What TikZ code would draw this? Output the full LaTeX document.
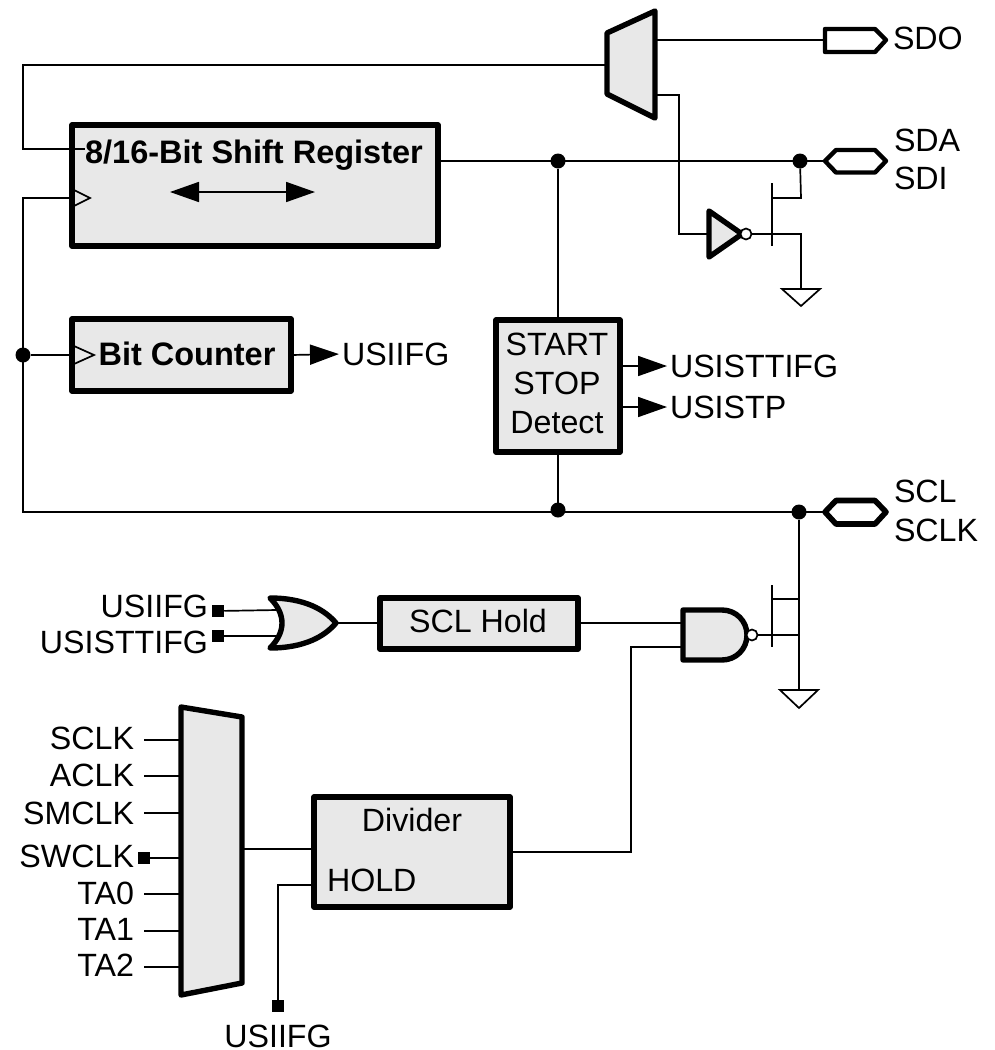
\documentclass[tikz,border=0pt]{standalone}
\usepackage{fontspec}
\setmainfont{Liberation Sans}
\usetikzlibrary{arrows.meta}
\tikzset{
  wire/.style={line width=1.7pt,line join=miter},
  heavy/.style={line width=5.4pt,line join=round,draw=black,fill=boxgray},
  blk/.style={draw=black,line width=5.4pt,fill=boxgray,outer sep=0pt,inner sep=0pt,line join=round},
  pad/.style={line width=4.4pt,line join=round,draw=black,fill=white},
  padheavy/.style={pad,line width=5.6pt},
  lbl/.style={inner sep=0pt,outer sep=0pt,font=\fontsize{32.2}{36}\selectfont,text height=23pt,text depth=0pt},
  blbl/.style={lbl,font=\fontsize{32.5}{36}\selectfont\bfseries},
  dot/.style={circle,fill=black,draw=none,minimum size=15pt,inner sep=0pt,outer sep=0pt},
  sq/.style={rectangle,fill=black,draw=none,minimum size=12.5pt,inner sep=0pt,outer sep=0pt},
  bubble/.style={circle,draw=black,fill=white,line width=1.7pt,minimum size=11pt,inner sep=0pt,outer sep=0pt},
  flow/.style={wire,-{Triangle[length=29pt,width=20pt]},shorten >=3pt},
  both/.style={wire,{Triangle[length=29pt,width=20pt]}-{Triangle[length=29pt,width=20pt]}},
  thin open/.style={line width=1.7pt,line join=miter},
}
\definecolor{boxgray}{HTML}{E8E8E8}
\begin{document}
\begin{tikzpicture}[x=1pt,y=-1pt]
\useasboundingbox (0,0) rectangle (994,1050);
% ---- shapes
% top multiplexer
\coordinate (mt1) at (607,33); \coordinate (mt2) at (655,11);
\coordinate (mt3) at (655,118); \coordinate (mt4) at (607,94);
\draw[heavy] (mt1)--(mt2)--(mt3)--(mt4)--cycle;
\coordinate (mtIn) at (607,65); \coordinate (mtO1) at (655,40); \coordinate (mtO2) at (655,95);
% boxes
\node[blk,minimum width=366pt,minimum height=121pt] (sr) at (255,185.5) {};
\node[blk,minimum width=219pt,minimum height=72pt] (bc) at (181.5,355) {};
\node[blk,minimum width=124pt,minimum height=132pt] (ssd) at (558,386) {};
\node[blk,minimum width=198pt,minimum height=51pt] (hold) at (479,623.5) {};
\node[blk,minimum width=196pt,minimum height=110pt] (div) at (412,852) {};
% pads
\coordinate (sdoP) at (825,40);
\draw[pad] (825,29)--(875,29)--(886,40)--(875,52)--(825,52)--cycle;
\coordinate (sdaP) at (825,161);
\draw[pad] (825,161)--(836,150)--(875,150)--(886,161)--(875,172.5)--(836,172.5)--cycle;
\coordinate (sclP) at (825,512);
\draw[padheavy] (825,512)--(836,500.5)--(875,500.5)--(886,512)--(875,524)--(836,524)--cycle;
% inverter
\coordinate (invIn) at (709,234);
\draw[heavy] (709,211)--(709,257)--(742,234)--cycle;
\node[bubble] (invB) at (746,234) {};
% OR gate
\coordinate (orA) at (277,610); \coordinate (orB) at (277,636); \coordinate (orO) at (336,623);
\draw[heavy] (270,598) .. controls (305,598) and (325,610) .. (orO)
  .. controls (325,636) and (305,648) .. (270,648)
  .. controls (286,632) and (286,614) .. cycle;
% NAND gate
\coordinate (ndA) at (683,623); \coordinate (ndB) at (683,647);
\draw[heavy] (683,610)--(722,610) .. controls (736,610) and (747,621) .. (747,635)
  .. controls (747,649) and (736,660) .. (722,660)--(683,660)--cycle;
\node[bubble] (ndC) at (752,635) {};
% big multiplexer
\draw[heavy] (181,707)--(242,717)--(242,983)--(181,995)--cycle;
\coordinate (bmO) at (242,849);
\foreach \n/\y in {a/740,b/776,c/813,d/858,e/894,f/931,g/967}{\coordinate (bm\n) at (181,\y);}
% ---- texts
\node[lbl,anchor=west] (tSDO) at (893,38) {SDO};
\node[lbl,anchor=west] (tSDA) at (894,140) {SDA};
\node[lbl,anchor=west] (tSDI) at (894,178) {SDI};
\node[lbl,anchor=west] (tSCL) at (894,491) {SCL};
\node[lbl,anchor=west] (tSCLK) at (894,530) {SCLK};
\node[blbl] (tsr) at (254,152) {8/16-Bit Shift Register};
\node[blbl] (tbc) at (187,354) {Bit Counter};
\node[lbl,anchor=west] (fBC) at (342,354) {USIIFG};
\node[lbl] (t1) at (557,344) {START};
\node[lbl] (t2) at (557,383) {STOP};
\node[lbl] (t3) at (557,422) {Detect};
\node[lbl,anchor=west] (fST) at (670,366) {USISTTIFG};
\node[lbl,anchor=west] (fSP) at (670,407) {USISTP};
\node[lbl] (thold) at (478,621) {SCL Hold};
\node[lbl] (tdiv) at (412,820) {Divider};
\node[lbl,anchor=west] (thd) at (327,880) {HOLD};
\node[lbl,anchor=east] (iA) at (208,606) {USIIFG};
\node[lbl,anchor=east] (iB) at (208,642) {USISTTIFG};
\node[lbl,anchor=east] (cA) at (134,738) {SCLK};
\node[lbl,anchor=east] (cB) at (134,775) {ACLK};
\node[lbl,anchor=east] (cC) at (134,813) {SMCLK};
\node[lbl,anchor=east] (cD) at (134,856) {SWCLK};
\node[lbl,anchor=east] (cE) at (134,893) {TA0};
\node[lbl,anchor=east] (cF) at (134,929) {TA1};
\node[lbl,anchor=east] (cG) at (134,965) {TA2};
\node[lbl] (tH) at (278,1035.5) {USIIFG};
% ---- junctions and terminals
\node[dot] (jSDA) at (800,161) {};
\node[dot] (jSS) at (558,161) {};
\node[dot] (jCK) at (23,355) {};
\node[dot] (jSB) at (558,510) {};
\node[dot] (jSCL) at (799,512) {};
\node[sq] (sA) at (218,611) {};
\node[sq] (sB) at (218,636) {};
\node[sq] (sD) at (144,858) {};
\node[sq] (sH) at (278,1006) {};
% ---- connectors
\coordinate (lt) at (23,65); \coordinate (lb) at (23,149); \coordinate (srIn) at (85,149);
\draw[wire] (mtIn)--(lt)--(lb)--(srIn);
\draw[wire] (mtO1)--(sdoP);
\draw[wire] (sr.east |- sdaP)--(sdaP);
\draw[wire] (mtO2)--(679,95)--(679,234)--(invIn);
\draw[wire] (jSS)--(ssd.north);
\draw[wire] (ssd.south)--(jSB);
\coordinate (ckTop) at (23,198); \coordinate (ckBot) at (23,512); \coordinate (srCk) at (72,198);
\draw[wire] (srCk)--(ckTop)--(ckBot)--(sclP);
\draw[wire] (jCK)--(bc.west);
% clock triangles
\draw[thin open] (74,190)--(90,198)--(74,206);
\draw[thin open] (74,346)--(94,355)--(74,364);
% shift arrows
\coordinate (sL) at (170,192); \coordinate (sR) at (315,192);
\draw[both] (sL)--(sR);
% flags
\draw[flow] (bc.east)--(fBC.west);
\draw[flow] (ssd.east |- fST)--(fST.west);
\draw[flow] (ssd.east |- fSP)--(fSP.west);
% SDA transistor
\coordinate (g1a) at (772,183); \coordinate (g1b) at (772,246);
\coordinate (d1) at (801,198); \coordinate (s1) at (801,234);
\coordinate (gnd1) at (801,289);
\draw[wire] (g1a)--(g1b);
\draw[wire] (jSDA)--(d1)--(g1a |- d1);
\draw[wire] (invB.east)--(s1)--(gnd1);
\draw[line width=1.7pt] (782,289)--(820,289)--(801,306)--cycle;
% SCL transistor
\coordinate (g2a) at (772,585); \coordinate (g2b) at (772,647);
\coordinate (gnd2) at (799,690);
\draw[wire] (g2a)--(g2b);
\draw[wire] (jSCL)--(gnd2);
\draw[wire] (772,599)--(799,599);
\draw[wire] (ndC.east)--(799,635);
\draw[line width=1.7pt] (780,690)--(818,690)--(799,708)--cycle;
% logic wires
\draw[wire] (sA)--(orA);
\draw[wire] (sB)--(orB);
\draw[wire] (orO)--(hold.west |- orO);
\draw[wire] (hold.east |- ndA)--(ndA);
\draw[wire] (div.east)--(631,852)--(631,647)--(ndB);
\draw[wire] (bmO)--(div.west |- bmO);
\draw[wire] (div.west |- 0,885)--(278,885)--(sH);
\foreach \n in {a,b,c,e,f,g}{\draw[wire] (144,0 |- bm\n)--(bm\n);}
\draw[wire] (sD)--(bmd);
\end{tikzpicture}
\end{document}
